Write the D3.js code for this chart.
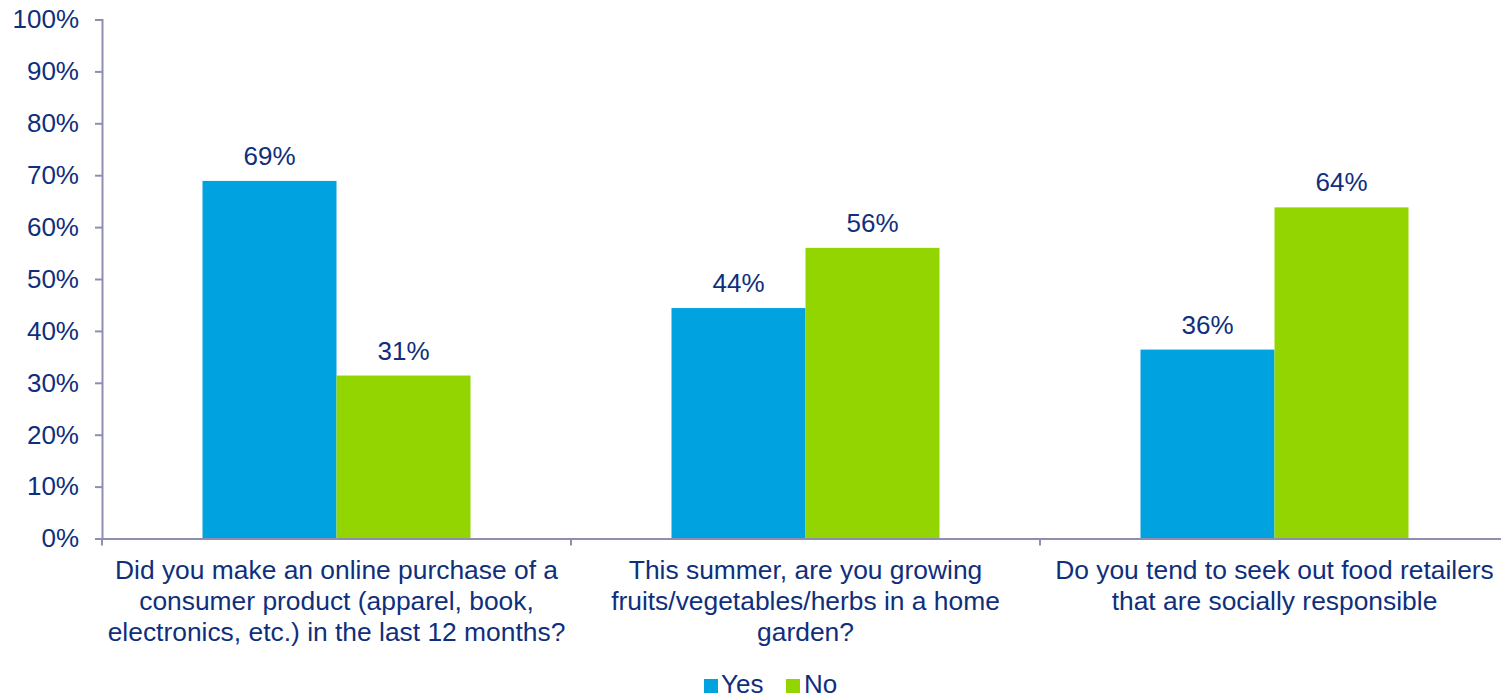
<!DOCTYPE html>
<html>
<head>
<meta charset="utf-8">
<script src="https://cdn.jsdelivr.net/npm/d3@7"></script>
<style>
  html, body { margin: 0; padding: 0; background: #fff; }
  svg text { font-family: "Liberation Sans", Arial, sans-serif; fill: #0F2F7C; }
</style>
</head>
<body>
<svg id="chart" width="1501" height="698"></svg>
<script>
const categories = [
  ["Did you make an online purchase of a", "consumer product (apparel, book,", "electronics, etc.) in the last 12 months?"],
  ["This summer, are you growing", "fruits/vegetables/herbs in a home", "garden?"],
  ["Do you tend to seek out food retailers", "that are socially responsible"]
];
const seriesNames = ["Yes", "No"];
const yesValues = [68.9, 44.4, 36.4];
const noValues = [31.4, 56.0, 63.8];
const yTicks = [0, 10, 20, 30, 40, 50, 60, 70, 80, 90, 100];
const colors = ["#00A2E0", "#93D500"];

const svg = d3.select("#chart");
const mLeft = 102, mRight = 1509, mTop = 19.5, mBottom = 538.5;
const axisColor = "#8E8FB0";

const x0 = d3.scaleBand().domain(d3.range(categories.length)).range([mLeft, mRight]).paddingInner(0).paddingOuter(0);
const x1 = d3.scaleBand().domain(seriesNames).range([0, x0.bandwidth()]).paddingInner(0).paddingOuter(0.75);
const y = d3.scaleLinear().domain([0, 100]).range([mBottom, mTop]);

// Y axis
const yAxis = d3.axisLeft(y).tickValues(yTicks).tickFormat(d => d + "%").tickSize(7).tickPadding(16);
const gy = svg.append("g").attr("transform", `translate(${mLeft},0)`).call(yAxis);
gy.select(".domain").attr("stroke", axisColor).attr("stroke-width", 2);
gy.selectAll(".tick line").attr("stroke", axisColor).attr("stroke-width", 2);
gy.selectAll(".tick text").style("font-size", "26px").style("font-family", "'Liberation Sans', Arial, sans-serif").attr("fill", "#0F2F7C");

// Bars
const data = categories.map((c, i) => ({ i, vals: [yesValues[i], noValues[i]] }));
const groups = svg.append("g").selectAll("g").data(data).join("g")
  .attr("transform", d => `translate(${x0(d.i)},0)`);
groups.selectAll("rect").data(d => d.vals.map((v, k) => ({ k, v })))
  .join("rect")
  .attr("x", d => x1(seriesNames[d.k]))
  .attr("width", x1.bandwidth())
  .attr("y", d => y(d.v))
  .attr("height", d => y(0) - y(d.v))
  .attr("fill", d => colors[d.k]);
groups.selectAll("text.val").data(d => d.vals.map((v, k) => ({ k, v })))
  .join("text")
  .attr("class", "val")
  .attr("x", d => x1(seriesNames[d.k]) + x1.bandwidth() / 2)
  .attr("y", d => y(d.v) - 16)
  .attr("text-anchor", "middle")
  .style("font-size", "26px")
  .text(d => Math.round(d.v) + "%");

// X axis
const xAxis = d3.axisBottom(x0).tickValues([]).tickSize(0);
const gx = svg.append("g").attr("transform", `translate(0,${mBottom})`).call(xAxis);
gx.select(".domain").attr("stroke", axisColor).attr("stroke-width", 2);
const boundaries = d3.range(categories.length + 1).map(i => mLeft + i * x0.step());
gx.selectAll("line.b").data(boundaries).join("line").attr("class", "b")
  .attr("x1", d => d).attr("x2", d => d).attr("y1", 0).attr("y2", 7)
  .attr("stroke", axisColor).attr("stroke-width", 2);

// Category labels
svg.append("g").selectAll("text").data(categories).join("text")
  .attr("text-anchor", "middle")
  .style("font-size", "26.4px")
  .attr("transform", (d, i) => `translate(${x0(i) + x0.bandwidth() / 2},579)`)
  .selectAll("tspan").data(d => d).join("tspan")
  .attr("x", 0)
  .attr("y", (d, j) => j * 31)
  .text(d => d);

// Legend
const legend = svg.append("g");
const legendItems = [{ x: 704, tx: 721 }, { x: 786, tx: 804 }];
legendItems.forEach((it, k) => {
  legend.append("rect").attr("x", it.x).attr("y", 679).attr("width", 14).attr("height", 14).attr("fill", colors[k]);
  legend.append("text").attr("x", it.tx).attr("y", 693).style("font-size", "26px").text(seriesNames[k]);
});
</script>
</body>
</html>
